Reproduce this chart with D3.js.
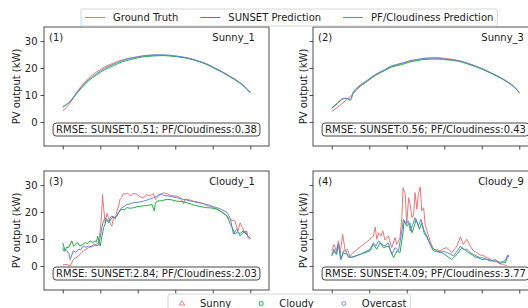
<!DOCTYPE html>
<html>
<head>
<meta charset="utf-8">
<script src="https://d3js.org/d3.v7.min.js"></script>
<style>
  body { margin: 0; background: #fff; }
  text { font-family: "DejaVu Sans", sans-serif; fill: #222; }
</style>
</head>
<body>
<svg width="528" height="308"></svg>
<script>
// [hour index, kW] pairs
const sunny1Truth = [[0,4.1],[0.2,7.1],[0.33,10.2],[0.5,13.4],[0.68,16.2],[0.9,18.5],[1.12,20.4],[1.35,21.8],[1.57,22.9],[1.8,23.7],[2.01,24.2],[2.25,24.6],[2.46,24.7],[2.65,24.7],[2.82,24.6],[3.1,24.2],[3.35,23.6],[3.6,22.6],[3.79,21.7],[4.0,20.3],[4.24,18.7],[4.45,17.0],[4.68,15.0],[4.85,13.1],[5,10.8]];
const sunny1Sunset = [[0,5.5],[0.2,7.6],[0.33,9.8],[0.5,12.6],[0.68,15.2],[0.9,17.4],[1.12,19.4],[1.35,20.9],[1.57,22.2],[1.8,23.1],[2.01,23.8],[2.25,24.3],[2.46,24.5],[2.65,24.6],[2.82,24.5],[3.1,24.1],[3.35,23.5],[3.6,22.5],[3.79,21.6],[4.0,20.2],[4.24,18.5],[4.45,16.8],[4.68,14.8],[4.85,13.0],[5,10.8]];
const sunny1Pf = [[0,5.7],[0.2,7.8],[0.33,10.0],[0.5,12.9],[0.68,15.6],[0.9,17.9],[1.12,19.9],[1.35,21.4],[1.57,22.7],[1.8,23.6],[2.01,24.2],[2.25,24.7],[2.46,24.9],[2.65,24.9],[2.82,24.8],[3.1,24.3],[3.35,23.7],[3.6,22.7],[3.79,21.8],[4.0,20.4],[4.24,18.7],[4.45,17.0],[4.68,15.0],[4.85,13.2],[5,11.0]];

const sunny3Truth = [[0,3.8],[0.2,6.0],[0.4,8.3],[0.58,10.6],[0.71,12.5],[0.95,15.1],[1.16,17.2],[1.4,19.1],[1.6,20.6],[1.85,21.6],[2.05,22.4],[2.3,23.2],[2.49,23.6],[2.7,23.8],[2.85,23.8],[3.1,23.4],[3.38,22.8],[3.6,21.9],[3.82,20.8],[4.05,19.5],[4.27,18.0],[4.5,16.3],[4.71,14.5],[4.87,12.8],[5,10.8]];
const sunny3Sunset = [[0,5.0],[0.15,6.8],[0.31,8.6],[0.4,8.7],[0.49,8.0],[0.58,11.0],[0.71,12.8],[0.95,15.2],[1.16,17.3],[1.4,19.0],[1.6,20.4],[1.85,21.2],[2.05,22.1],[2.3,22.8],[2.49,23.2],[2.7,23.3],[2.85,23.3],[3.1,23.0],[3.38,22.5],[3.6,21.6],[3.82,20.6],[4.05,19.3],[4.27,17.9],[4.5,16.3],[4.71,14.6],[4.87,12.9],[5,10.9]];
const sunny3Pf = [[0,5.3],[0.15,7.0],[0.31,8.8],[0.4,8.8],[0.49,8.4],[0.58,11.2],[0.71,13.1],[0.95,15.5],[1.16,17.6],[1.4,19.3],[1.6,20.8],[1.85,21.7],[2.05,22.6],[2.3,23.2],[2.49,23.6],[2.7,23.7],[2.85,23.6],[3.1,23.2],[3.38,22.7],[3.6,21.8],[3.82,20.8],[4.05,19.5],[4.27,18.1],[4.5,16.5],[4.71,14.7],[4.87,13.0],[5,11.0]];

const cloudy1Truth = [[0,0.4],[0.11,0.6],[0.2,0],[0.28,2.4],[0.42,3.7],[0.55,5.6],[0.69,6.8],[0.82,7.4],[0.95,8.6],[1.0,13],[1.04,20],[1.06,26.5],[1.09,21.6],[1.13,16],[1.18,19.5],[1.22,17.9],[1.27,15.5],[1.31,14.8],[1.36,18.4],[1.4,17.3],[1.45,20.5],[1.49,22.3],[1.53,24.8],[1.57,25.3],[1.62,26.9],[1.66,26.6],[1.73,27.0],[1.8,26],[1.89,26.9],[1.98,26.6],[2.06,25.6],[2.15,25.3],[2.24,26.5],[2.33,26],[2.42,26.8],[2.47,24.6],[2.51,25.3],[2.6,26.6],[2.69,27.1],[2.78,26.8],[2.87,26.2],[2.95,26],[3.04,25.9],[3.13,25.3],[3.22,23.1],[3.27,24.9],[3.31,24.7],[3.4,24.4],[3.49,24],[3.58,23.8],[3.67,23.5],[3.75,23.1],[3.84,22.3],[3.93,22.2],[4.02,21.6],[4.11,21.2],[4.2,20.4],[4.29,19.7],[4.38,18.5],[4.47,17.1],[4.59,16.7],[4.67,13.0],[4.73,16.0],[4.79,14.2],[4.86,12.2],[4.91,13.0],[4.94,10.4],[5,9.9]];
const cloudy1Sunset = [[0,8.6],[0.06,5.6],[0.1,7.0],[0.15,6.8],[0.2,8.1],[0.24,9.3],[0.29,7.3],[0.33,8.0],[0.4,8.6],[0.46,7.4],[0.53,8.0],[0.6,8.6],[0.67,8.3],[0.73,9.3],[0.8,8.7],[0.86,9.3],[0.9,8.9],[0.93,11],[1.0,7.4],[1.05,11.4],[1.09,14.2],[1.13,15.6],[1.17,17.3],[1.24,16.4],[1.31,17.9],[1.38,18.0],[1.44,18.5],[1.5,20.0],[1.57,21],[1.64,20.8],[1.71,21.6],[1.8,21.4],[1.89,21.6],[2.0,22.0],[2.15,22.3],[2.26,22.4],[2.38,22.8],[2.44,20.4],[2.47,23.1],[2.51,24],[2.64,24.2],[2.78,24.7],[2.91,24.5],[3.04,24],[3.17,23.9],[3.31,23.5],[3.44,22.8],[3.58,22.3],[3.71,21.9],[3.84,21.6],[3.97,21.5],[4.11,21],[4.24,19.9],[4.38,18.5],[4.47,15.4],[4.53,14.0],[4.59,11.8],[4.66,12.6],[4.73,12.0],[4.81,13.0],[4.91,11.5],[5,10.3]];
const cloudy1Pf = [[0,6.8],[0.02,5.6],[0.11,5.6],[0.16,4.7],[0.2,2.4],[0.28,5.6],[0.35,5.0],[0.42,6.2],[0.48,6.0],[0.55,7.4],[0.62,6.9],[0.69,7.4],[0.76,7.1],[0.82,8],[0.89,7.6],[0.95,7.7],[1.0,10.5],[1.04,14.2],[1.08,16.4],[1.13,17.9],[1.18,16.9],[1.22,16],[1.27,18.0],[1.31,18.5],[1.38,17.8],[1.44,18.5],[1.5,20.2],[1.57,21.6],[1.64,22.0],[1.71,22.8],[1.8,23.0],[1.89,23.5],[2.02,23.6],[2.15,24],[2.28,24.6],[2.42,25.3],[2.51,25.9],[2.6,26.6],[2.69,26.2],[2.78,26],[2.91,25.7],[3.04,25.3],[3.17,24.9],[3.31,24.4],[3.44,24.0],[3.58,23.5],[3.71,23.2],[3.84,22.8],[3.97,22.2],[4.11,21.6],[4.24,20.9],[4.38,19.8],[4.47,17.6],[4.55,11.8],[4.64,13.7],[4.73,11.1],[4.79,12.0],[4.86,13],[4.93,11.2],[5,10.3]];

const cloudy9Truth = [[0,5.6],[0.06,8],[0.12,5.6],[0.18,9.3],[0.22,4.3],[0.29,11.7],[0.36,5.6],[0.42,6.2],[0.49,3.3],[0.53,4.5],[1.02,9.9],[1.11,11.1],[1.16,14.4],[1.2,9.9],[1.25,12.3],[1.31,11.1],[1.36,13],[1.42,9.6],[1.51,11.1],[1.6,6.8],[1.69,10.5],[1.73,8],[1.82,10.5],[1.87,17.9],[1.9,29],[1.96,26.6],[2.0,15.4],[2.05,25.3],[2.09,22.8],[2.14,17.9],[2.18,18.5],[2.22,27.2],[2.27,21],[2.31,26.6],[2.36,29.3],[2.4,20.4],[2.45,21.6],[2.49,15.4],[2.54,13],[2.62,9.3],[2.71,6.2],[2.8,6.0],[2.89,5.6],[2.98,6.4],[3.07,6.8],[3.2,4.9],[3.34,7.4],[3.43,10.8],[3.51,8],[3.6,9.9],[3.69,7.4],[3.78,5.6],[3.87,4.9],[3.96,4.1],[4.05,3.8],[4.14,3.1],[4.22,2.6],[4.31,1.8],[4.4,1.5],[4.49,0.8],[4.58,0.6],[4.67,0]];
const cloudy9Sunset = [[0,3.7],[0.06,5.6],[0.13,4.3],[0.18,8],[0.24,2.4],[0.31,4.9],[0.4,4.3],[0.49,3.1],[0.76,4.3],[1.02,5.6],[1.11,8],[1.2,6.2],[1.29,8.6],[1.38,6.8],[1.51,7.4],[1.65,3.1],[1.74,5.6],[1.82,4.9],[1.9,12.3],[1.93,16.6],[2.0,14.8],[2.08,16],[2.14,12.3],[2.2,14.8],[2.25,17.3],[2.34,13.6],[2.4,16],[2.46,12.3],[2.54,10.5],[2.67,6.8],[2.8,5.6],[2.94,5],[3.07,3.7],[3.2,2.4],[3.34,4.3],[3.47,6.8],[3.56,5.9],[3.65,4.9],[3.74,4.2],[3.83,3.3],[3.92,3.0],[4.0,2.4],[4.12,2.6],[4.23,1.8],[4.36,2.4],[4.49,0.8],[4.56,1.5],[4.63,1.2],[4.7,3.9],[4.72,3.7]];
const cloudy9Pf = [[0,4.3],[0.06,6.2],[0.12,4.3],[0.18,8.6],[0.24,2.4],[0.31,5.6],[0.38,5.6],[0.44,3.3],[0.53,3.1],[0.76,4.3],[1.02,6.2],[1.11,8.6],[1.18,7.4],[1.25,9.3],[1.33,8],[1.42,7.4],[1.51,8.6],[1.6,4.3],[1.69,6.8],[1.78,5.6],[1.87,13],[1.91,17.3],[1.98,16],[2.05,16.6],[2.09,13],[2.16,15.4],[2.22,17.9],[2.31,14.8],[2.38,17.3],[2.45,13.6],[2.54,11.1],[2.62,8],[2.71,5.6],[2.8,5.3],[2.89,5],[2.98,5.4],[3.07,5],[3.16,4.4],[3.25,3.7],[3.34,5.5],[3.43,7.4],[3.51,6.0],[3.6,6.2],[3.69,5.0],[3.78,4.3],[3.87,3.6],[3.96,3.1],[4.05,2.9],[4.14,2.4],[4.22,2.2],[4.31,1.8],[4.4,1.8],[4.49,1.4],[4.56,1.6],[4.63,2.0],[4.69,4.1],[4.72,3.3]];

const panelTags = ["(1)", "(2)", "(3)", "(4)"];
const panelNames = ["Sunny_1", "Sunny_3", "Cloudy_1", "Cloudy_9"];
const rmseSunset = ["0.51", "0.56", "2.84", "4.09"];
const rmsePf = ["0.38", "0.43", "2.03", "3.77"];
const seriesNames = ["Ground Truth", "SUNSET Prediction", "PF/Cloudiness Prediction"];
const weatherNames = ["Sunny", "Cloudy", "Overcast"];
const xTicks = [0, 1, 2, 3, 4, 5];
const yTicks = [0, 10, 20, 30];

const colors = ["#f07575", "#1fb040", "#6385dc"];
const panelData = [
  [sunny1Truth, sunny1Sunset, sunny1Pf],
  [sunny3Truth, sunny3Sunset, sunny3Pf],
  [cloudy1Truth, cloudy1Sunset, cloudy1Pf],
  [cloudy9Truth, cloudy9Sunset, cloudy9Pf]
];
const smooth = [true, true, false, false];

const pw = 225, ph = 119;
const origins = [[44, 27], [313, 27], [44, 171], [313, 171]];

const svg = d3.select("svg");

const x = d3.scaleLinear().domain([-0.5, 5.5]).range([0, pw]);
const y = d3.scaleLinear().domain([-8.9, 35.2]).range([ph, 0]);

panelData.forEach(function(series, i) {
  const g = svg.append("g")
    .attr("transform", `translate(${origins[i][0]},${origins[i][1]})`);

  // axes
  g.append("g")
    .attr("transform", `translate(0,${ph})`)
    .call(d3.axisBottom(x).tickValues(xTicks).tickFormat("").tickSize(3.5).tickSizeOuter(0))
    .call(a => a.select(".domain").remove());

  const yAxis = d3.axisLeft(y).tickValues(yTicks).tickSize(3.5).tickSizeOuter(0).tickPadding(3);
  if (i % 2 == 1) yAxis.tickFormat("");
  g.append("g").call(yAxis)
    .call(a => a.select(".domain").remove())
    .call(a => a.selectAll("text").style("font-size", "10px").attr("fill", "#222"));

  g.selectAll(".tick line").attr("stroke", "#222").attr("stroke-width", 0.8);

  const line = d3.line()
    .x(d => x(d[0]))
    .y(d => y(d[1]))
    .curve(smooth[i] ? d3.curveMonotoneX : d3.curveLinear);

  series.forEach(function(s, k) {
    g.append("path")
      .datum(s)
      .attr("fill", "none")
      .attr("stroke", colors[k])
      .attr("stroke-width", 1)
      .attr("stroke-linejoin", "round")
      .attr("d", line);
  });

  g.append("rect")
    .attr("width", pw).attr("height", ph)
    .attr("fill", "none").attr("stroke", "#222").attr("stroke-width", 0.8);

  g.append("text").attr("x", 5).attr("y", 14)
    .style("font-size", "10px").text(panelTags[i]);
  g.append("text").attr("x", pw - 14).attr("y", 14)
    .attr("text-anchor", "end").style("font-size", "10px").text(panelNames[i]);

  // rmse box
  const t = g.append("text")
    .attr("x", pw / 2).attr("y", ph - 13)
    .attr("text-anchor", "middle")
    .style("font-size", "10px")
    .text(`RMSE: SUNSET:${rmseSunset[i]}; PF/Cloudiness:${rmsePf[i]}`);
  const tw = t.node().getComputedTextLength();
  g.insert("rect", () => t.node())
    .attr("x", pw / 2 - tw / 2 - 3).attr("y", ph - 23)
    .attr("width", tw + 6).attr("height", 13)
    .attr("rx", 3)
    .attr("fill", "#fff").attr("stroke", "#333").attr("stroke-width", 0.9);

  g.append("text")
    .attr("transform", `translate(${i % 2 == 0 ? -24 : -6},${ph / 2}) rotate(-90)`)
    .attr("text-anchor", "middle")
    .style("font-size", "10px")
    .text("PV output (kW)");
});

// top legend
const topLeg = svg.append("g");
const topBox = topLeg.append("rect")
  .attr("y", 9).attr("height", 17).attr("rx", 2)
  .attr("fill", "#fff").attr("fill-opacity", 0.8)
  .attr("stroke", "#ccc").attr("stroke-width", 0.8);
let cx = 85;
seriesNames.forEach(function(name, k) {
  topLeg.append("path")
    .attr("d", `M${cx},17.5H${cx + 20}`)
    .style("stroke", colors[k]).style("stroke-width", 1.1).style("fill", "none");
  const tt = topLeg.append("text").attr("x", cx + 28).attr("y", 21)
    .style("font-size", "10px").text(name);
  cx += 28 + tt.node().getComputedTextLength() + 22;
});
topBox.attr("x", 81).attr("width", cx - 22 + 4 - 81);

// bottom legend
const botLeg = svg.append("g");
const botBox = botLeg.append("rect")
  .attr("y", 294).attr("height", 20).attr("rx", 2)
  .attr("fill", "#fff").attr("fill-opacity", 0.8)
  .attr("stroke", "#ccc").attr("stroke-width", 0.8);
const symbols = [d3.symbolTriangle, d3.symbolSquare, d3.symbolCircle];
cx = 172;
weatherNames.forEach(function(name, k) {
  botLeg.append("path")
    .attr("transform", `translate(${cx + 10},303.5)`)
    .attr("d", d3.symbol().type(symbols[k]).size(12)())
    .attr("fill", "none").attr("stroke", colors[k]).attr("stroke-width", 0.9);
  const tt = botLeg.append("text").attr("x", cx + 28).attr("y", 307)
    .style("font-size", "10px").text(name);
  cx += 28 + tt.node().getComputedTextLength() + 20;
});
botBox.attr("x", 168).attr("width", cx - 20 + 4 - 168);
</script>
</body>
</html>
